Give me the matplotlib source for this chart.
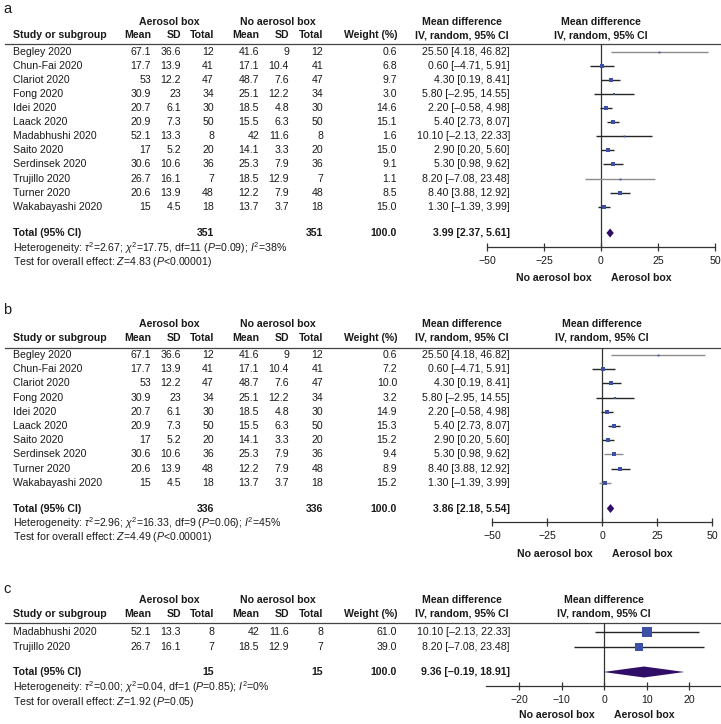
import numpy as np
import matplotlib
matplotlib.use("Agg")
import matplotlib.pyplot as plt

plt.rcParams['font.family'] = ['Liberation Sans', 'DejaVu Sans']
plt.rcParams['mathtext.fontset'] = 'custom'
plt.rcParams['mathtext.rm'] = 'Liberation Sans'
plt.rcParams['mathtext.it'] = 'Liberation Sans:italic'
plt.rcParams['mathtext.bf'] = 'Liberation Sans:bold'

# ---------------- data ----------------
studies_a = ["Begley 2020", "Chun-Fai 2020", "Clariot 2020", "Fong 2020", "Idei 2020",
             "Laack 2020", "Madabhushi 2020", "Saito 2020", "Serdinsek 2020",
             "Trujillo 2020", "Turner 2020", "Wakabayashi 2020"]
aer_mean_a = [67.1, 17.7, 53, 30.9, 20.7, 20.9, 52.1, 17, 30.6, 26.7, 20.6, 15]
aer_sd_a = [36.6, 13.9, 12.2, 23, 6.1, 7.3, 13.3, 5.2, 10.6, 16.1, 13.9, 4.5]
aer_n_a = [12, 41, 47, 34, 30, 50, 8, 20, 36, 7, 48, 18]
no_mean_a = [41.6, 17.1, 48.7, 25.1, 18.5, 15.5, 42, 14.1, 25.3, 18.5, 12.2, 13.7]
no_sd_a = [9, 10.4, 7.6, 12.2, 4.8, 6.3, 11.6, 3.3, 7.9, 12.9, 7.9, 3.7]
no_n_a = [12, 41, 47, 34, 30, 50, 8, 20, 36, 7, 48, 18]
weight_a = [0.6, 6.8, 9.7, 3.0, 14.6, 15.1, 1.6, 15.0, 9.1, 1.1, 8.5, 15.0]
md_a = [25.50, 0.60, 4.30, 5.80, 2.20, 5.40, 10.10, 2.90, 5.30, 8.20, 8.40, 1.30]
lo_a = [4.18, -4.71, 0.19, -2.95, -0.58, 2.73, -2.13, 0.20, 0.98, -7.08, 3.88, -1.39]
hi_a = [46.82, 5.91, 8.41, 14.55, 4.98, 8.07, 22.33, 5.60, 9.62, 23.48, 12.92, 3.99]
total_a = [351, 351, 100.0, 3.99, 2.37, 5.61]
het_a = r"Heterogeneity: $\tau^2$=2.67; $\chi^2$=17.75, df=11 ($\mathit{P}$=0.09); $\mathit{I}^2$=38%"
test_a = r"Test for overall effect: $\mathit{Z}$=4.83 ($\mathit{P}$<0.00001)"

studies_b = ["Begley 2020", "Chun-Fai 2020", "Clariot 2020", "Fong 2020", "Idei 2020",
             "Laack 2020", "Saito 2020", "Serdinsek 2020", "Turner 2020", "Wakabayashi 2020"]
aer_mean_b = [67.1, 17.7, 53, 30.9, 20.7, 20.9, 17, 30.6, 20.6, 15]
aer_sd_b = [36.6, 13.9, 12.2, 23, 6.1, 7.3, 5.2, 10.6, 13.9, 4.5]
aer_n_b = [12, 41, 47, 34, 30, 50, 20, 36, 48, 18]
no_mean_b = [41.6, 17.1, 48.7, 25.1, 18.5, 15.5, 14.1, 25.3, 12.2, 13.7]
no_sd_b = [9, 10.4, 7.6, 12.2, 4.8, 6.3, 3.3, 7.9, 7.9, 3.7]
no_n_b = [12, 41, 47, 34, 30, 50, 20, 36, 48, 18]
weight_b = [0.6, 7.2, 10.0, 3.2, 14.9, 15.3, 15.2, 9.4, 8.9, 15.2]
md_b = [25.50, 0.60, 4.30, 5.80, 2.20, 5.40, 2.90, 5.30, 8.40, 1.30]
lo_b = [4.18, -4.71, 0.19, -2.95, -0.58, 2.73, 0.20, 0.98, 3.88, -1.39]
hi_b = [46.82, 5.91, 8.41, 14.55, 4.98, 8.07, 5.60, 9.62, 12.92, 3.99]
total_b = [336, 336, 100.0, 3.86, 2.18, 5.54]
het_b = r"Heterogeneity: $\tau^2$=2.96; $\chi^2$=16.33, df=9 ($\mathit{P}$=0.06); $\mathit{I}^2$=45%"
test_b = r"Test for overall effect: $\mathit{Z}$=4.49 ($\mathit{P}$<0.00001)"

studies_c = ["Madabhushi 2020", "Trujillo 2020"]
aer_mean_c = [52.1, 26.7]
aer_sd_c = [13.3, 16.1]
aer_n_c = [8, 7]
no_mean_c = [42, 18.5]
no_sd_c = [11.6, 12.9]
no_n_c = [8, 7]
weight_c = [61.0, 39.0]
md_c = [10.10, 8.20]
lo_c = [-2.13, -7.08]
hi_c = [22.33, 23.48]
total_c = [15, 15, 100.0, 9.36, -0.19, 18.91]
het_c = r"Heterogeneity: $\tau^2$=0.00; $\chi^2$=0.04, df=1 ($\mathit{P}$=0.85); $\mathit{I}^2$=0%"
test_c = r"Test for overall effect: $\mathit{Z}$=1.92 ($\mathit{P}$=0.05)"

ticks_ab = [-50, -25, 0, 25, 50]
ticks_c = [-20, -10, 0, 10, 20]

# ---------------- style ----------------
W, H = 721, 724
FS = 7.6
TXT = '#1a1a1a'
SQ = '#3d50a8'
DIA = '#300d66'
GRAY = '#8c8c8c'
BLK = '#262626'

fig = plt.figure(figsize=(W / 100, H / 100), dpi=100)
tax = fig.add_axes([0, 0, 1, 1])
tax.set_xlim(0, W)
tax.set_ylim(H, 0)
tax.axis('off')


def fmt(v):
    return f"{v:g}"


def ci(m, l, h):
    s = f"{m:.2f} [{l:.2f}, {h:.2f}]"
    return s.replace('-', '\u2013')


def T(x, y, s, ha='left', bold=False, size=FS):
    tax.text(x, y, s, ha=ha, va='center', fontsize=size, color=TXT,
             fontweight='bold' if bold else 'normal')


def panel(label, L, names, am, asd, an, nm, nsd, nn, wt, md, lo, hi, tot, het, test,
          ax_box, xlim, ticks, gray_rows):
    T(3, L['label'], label, size=10.5)
    # group headers
    T(169, L['group'], "Aerosol box", ha='center', bold=True)
    T(278, L['group'], "No aerosol box", ha='center', bold=True)
    T(462, L['group'], "Mean difference", ha='center', bold=True)
    # column headers
    y = L['col']
    T(13, y, "Study or subgroup", bold=True)
    for xx, s in [(151, "Mean"), (181, "SD"), (214, "Total"), (259, "Mean"),
                  (289, "SD"), (323, "Total"), (397, "Weight (%)")]:
        T(xx, y, s, ha='right', bold=True)
    T(462, y, "IV, random, 95% CI", ha='center', bold=True)
    tax.plot([5, 720], [L['line'], L['line']], color='#444444', lw=0.9)

    # forest axes
    x0, x1 = ax_box
    ytop, yax = L['line'], L['axis']
    ax = fig.add_axes([x0 / W, 1 - yax / H, (x1 - x0) / W, (yax - ytop) / H])
    ax.set_xlim(*xlim)
    ax.set_ylim(yax, ytop)
    ax.patch.set_alpha(0)
    for sp in ['top', 'left', 'right']:
        ax.spines[sp].set_visible(False)
    ax.spines['bottom'].set_color('#333333')
    ax.spines['bottom'].set_linewidth(0.9)
    ax.set_yticks([])
    ax.set_xticks(ticks)
    ax.set_xticklabels([f"{t}".replace('-', '\u2212') for t in ticks])
    ax.tick_params(axis='x', direction='inout', length=6, width=0.9, color='#333333',
                   labelsize=FS, labelcolor=TXT, pad=3.5)
    ax.axvline(0, color='#333333', lw=0.9)
    zero_px = x0 + (0 - xlim[0]) / (xlim[1] - xlim[0]) * (x1 - x0)
    T(zero_px, L['group'], "Mean difference", ha='center', bold=True)
    T(zero_px, L['col'], "IV, random, 95% CI", ha='center', bold=True)

    for i, n in enumerate(names):
        y = L['row0'] + i * L['step']
        T(13, y, n)
        for xx, v in [(151, am[i]), (181, asd[i]), (214, an[i]), (259, nm[i]),
                      (289, nsd[i]), (323, nn[i])]:
            T(xx, y, fmt(v), ha='right')
        T(397, y, f"{wt[i]:.1f}", ha='right')
        T(510, y, ci(md[i], lo[i], hi[i]), ha='right')
        col = GRAY if n in gray_rows else BLK
        ax.plot([lo[i], hi[i]], [y, y], color=col, lw=1.0, solid_capstyle='butt',
                clip_on=False)
        side = max(1.8, 1.2 * np.sqrt(wt[i]))
        ax.plot([md[i]], [y], marker='s', ms=side / 1.389, color=SQ, mew=0,
                clip_on=False, zorder=3)

    y = L['total']
    T(13, y, "Total (95% CI)", bold=True)
    T(214, y, fmt(tot[0]), ha='right', bold=True)
    T(323, y, fmt(tot[1]), ha='right', bold=True)
    T(397, y, f"{tot[2]:.1f}", ha='right', bold=True)
    T(510, y, ci(tot[3], tot[4], tot[5]), ha='right', bold=True)
    hh = L['dia_h'] / 2
    ax.fill([tot[4], tot[3], tot[5], tot[3]], [y, y - hh, y, y + hh], color=DIA,
            lw=0, clip_on=False, zorder=3)
    T(13, L['het'], het)
    T(13, L['test'], test)
    T(zero_px - 9, L['dir'], "No aerosol box", ha='right', bold=True)
    T(zero_px + 10, L['dir'], "Aerosol box", ha='left', bold=True)


LA = dict(label=9, group=22, col=35, line=44, row0=52, step=14.06, total=233,
          het=248, test=262, axis=247, dir=278, dia_h=9)
LB = dict(label=310, group=324, col=338, line=348, row0=355, step=14.2, total=508.5,
          het=523, test=537, axis=522, dir=554, dia_h=9)
LC = dict(label=589, group=600, col=614, line=623, row0=632, step=14.5, total=672,
          het=687, test=702, axis=686, dir=715, dia_h=11)

panel("a", LA, studies_a, aer_mean_a, aer_sd_a, aer_n_a, no_mean_a, no_sd_a, no_n_a,
      weight_a, md_a, lo_a, hi_a, total_a, het_a, test_a, (487, 715), (-50, 50),
      ticks_ab, ["Begley 2020", "Trujillo 2020"])
panel("b", LB, studies_b, aer_mean_b, aer_sd_b, aer_n_b, no_mean_b, no_sd_b, no_n_b,
      weight_b, md_b, lo_b, hi_b, total_b, het_b, test_b, (492, 712), (-50, 50),
      ticks_ab, ["Begley 2020", "Serdinsek 2020", "Wakabayashi 2020"])
panel("c", LC, studies_c, aer_mean_c, aer_sd_c, aer_n_c, no_mean_c, no_sd_c, no_n_c,
      weight_c, md_c, lo_c, hi_c, total_c, het_c, test_c, (486, 721), (-27.8, 27.5),
      ticks_c, [])

fig.savefig("out.png", dpi=100)
